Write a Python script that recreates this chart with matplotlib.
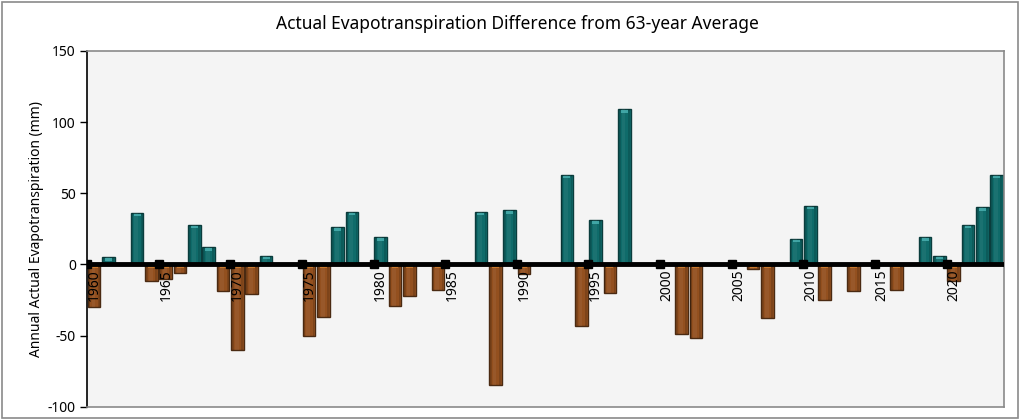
import numpy as np
import matplotlib
matplotlib.use("Agg")
import matplotlib.pyplot as plt
from matplotlib.patches import Rectangle

# ── Data ─────────────────────────────────────────────────────────────────────
years = list(range(1960, 2024))
aet_diff = [
    -30, 5, 0, 36, -12, -10, -6, 28, 12, -19,      # 1960-1969
    -60, -21, 6, 0, 0, -50, -37, 26, 37, 0,        # 1970-1979
    19, -29, -22, 0, -18, 0, 0, 37, -85, 38,       # 1980-1989
    -7, 0, 0, 63, -43, 31, -20, 109, 0, 0,         # 1990-1999
    0, -49, -52, 0, 0, 0, -3, -38, 0, 18,          # 2000-2009
    41, -25, 0, -19, 0, 0, -18, 0, 19, 6,          # 2010-2019
    -12, 28, 40, 63,                               # 2020-2023
]
label_years = [y for y in years if y % 5 == 0]
y_ticks = [-100, -50, 0, 50, 100, 150]

TITLE  = "Actual Evapotranspiration Difference from 63-year Average"
YLABEL = "Annual Actual Evapotranspiration (mm)"

# ── Style ────────────────────────────────────────────────────────────────────
plt.rcParams["font.family"] = ["Noto Sans", "DejaVu Sans"]
POS_BODY, POS_EDGE, POS_CAP = "#0f6b6a", "#0b3d3d", "#4fb8b8"
NEG_BODY, NEG_EDGE, NEG_CAP = "#93501f", "#4a2a12", "#d98530"
BAR_W = 0.88

fig = plt.figure(figsize=(10.21, 4.19), dpi=100)
fig.patches.append(Rectangle((0.002, 0.003), 0.995, 0.993, transform=fig.transFigure,
                             fill=False, edgecolor="#8a8a8a", linewidth=1.2))
ax = fig.add_axes([0.0852, 0.0294, 0.898, 0.849])
ax.set_facecolor("#f4f4f4")

x = np.array(years, dtype=float)
v = np.array(aet_diff, dtype=float)
pos = v > 0
body = np.where(pos, POS_BODY, NEG_BODY)
edge = np.where(pos, POS_EDGE, NEG_EDGE)
cap = np.where(pos, POS_CAP, NEG_CAP)

# main bars
ax.bar(x, v, width=BAR_W, color=body, edgecolor=edge, linewidth=1.0, zorder=2)
# cylinder-ish shading: darker sides, lighter middle strip
ax.bar(x - BAR_W * 0.36, v, width=BAR_W * 0.14, color="black", alpha=0.15,
       linewidth=0, zorder=3)
ax.bar(x + BAR_W * 0.36, v, width=BAR_W * 0.14, color="black", alpha=0.15,
       linewidth=0, zorder=3)
ax.bar(x - BAR_W * 0.06, v, width=BAR_W * 0.3, color="white", alpha=0.05,
       linewidth=0, zorder=3)
# highlight cap at the top end of each bar
cap_h = 1.6
cap_bottom = np.where(pos, v - cap_h - 0.7, -0.7 - cap_h)
cap_vis = v != 0
ax.bar(x[cap_vis], cap_h, bottom=cap_bottom[cap_vis], width=BAR_W * 0.55,
       color=cap[cap_vis], linewidth=0, alpha=0.75, zorder=4)

# zero line with tick squares
ax.axhline(0, color="black", linewidth=3.5, zorder=5)
ax.plot([yr - 0.5 for yr in label_years], [0] * len(label_years), "s",
        color="black", markersize=6, zorder=6)
for yr in label_years:
    ax.text(yr, -3.5, str(yr), rotation=90, ha="center", va="top",
            fontsize=10, zorder=7)

ax.set_xlim(years[0] - 0.5, years[-1] + 0.5)
ax.set_ylim(-100, 150)
ax.set_yticks(y_ticks)
ax.set_yticklabels([str(t) for t in y_ticks], fontsize=10)
ax.set_xticks([])
ax.tick_params(axis="y", direction="out", length=5, width=1, pad=3)
ax.set_ylabel(YLABEL, fontsize=10, labelpad=3)

for side in ("top", "right", "bottom"):
    ax.spines[side].set_color("#8a8a8a")
    ax.spines[side].set_linewidth(1.2)
ax.spines["left"].set_color("black")
ax.spines["left"].set_linewidth(1.2)

fig.text(0.507, 0.943, TITLE, ha="center", va="center", fontsize=12.5)

fig.savefig("out.png", dpi=100)
